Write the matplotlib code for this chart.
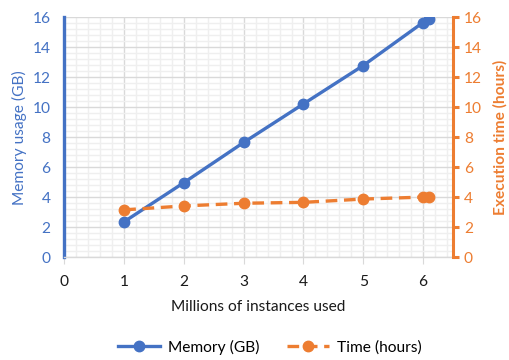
import numpy as np
import matplotlib
matplotlib.use("Agg")
import matplotlib.pyplot as plt
from matplotlib.ticker import MultipleLocator

# Millions of instances used
instances = [1, 2, 3, 4, 5, 6, 6.1]
memory_gb = [2.36, 4.97, 7.65, 10.22, 12.78, 15.65, 15.9]
time_hours = [3.15, 3.41, 3.59, 3.65, 3.87, 4.0, 4.02]

BLUE = "#4472C4"
ORANGE = "#ED7D31"
GRID_MAJOR = "#D9D9D9"
GRID_MINOR = "#EFEFEF"
FS = 11.2

plt.rcParams["font.family"] = ["Lato", "DejaVu Sans"]

fig = plt.figure(figsize=(5.09, 3.6), dpi=100)
ax = fig.add_axes([0.1267, 0.286, 0.763, 0.666])
ax2 = ax.twinx()

ax.set_xlim(0, 6.5)
ax.set_ylim(0, 16)
ax2.set_ylim(0, 16)

ax.xaxis.set_major_locator(MultipleLocator(1))
ax.xaxis.set_minor_locator(MultipleLocator(0.2))
ax.yaxis.set_major_locator(MultipleLocator(2))
ax.yaxis.set_minor_locator(MultipleLocator(0.4))
ax2.yaxis.set_major_locator(MultipleLocator(2))

ax.grid(True, which="major", color=GRID_MAJOR, linewidth=1.0)
ax.grid(True, which="minor", color=GRID_MINOR, linewidth=1.0)
ax.set_axisbelow(True)

ax.plot(instances, memory_gb, color=BLUE, linewidth=2.4, marker="o",
        markersize=7.5, label="Memory (GB)", zorder=3)
ax2.plot(instances, time_hours, color=ORANGE, linewidth=2.4, marker="o",
         markersize=7.5, linestyle=(0, (3.5, 2)), label="Time (hours)", zorder=3)

# spines
for s in ["top", "right"]:
    ax.spines[s].set_visible(False)
for s in ["top", "left", "bottom"]:
    ax2.spines[s].set_visible(False)
ax.spines["left"].set_color(BLUE)
ax.spines["left"].set_linewidth(2.4)
ax.spines["bottom"].set_color(GRID_MAJOR)
ax.spines["bottom"].set_linewidth(1.0)
ax2.spines["right"].set_color(ORANGE)
ax2.spines["right"].set_linewidth(2.2)

ax.tick_params(axis="y", which="both", length=0, labelcolor=BLUE,
               labelsize=FS, pad=10)
ax.tick_params(axis="x", which="major", length=5, color=GRID_MAJOR,
               labelcolor="#1a1a1a", labelsize=FS, pad=8)
ax.tick_params(axis="x", which="minor", length=0)
ax2.tick_params(axis="y", which="major", length=4, width=2.2, color=ORANGE,
                labelcolor=ORANGE, labelsize=FS, pad=4)
ax2.tick_params(axis="y", which="minor", length=0)

ax.set_ylabel("Memory usage (GB)", color=BLUE, fontsize=FS, labelpad=4)
ax2.set_ylabel("Execution time (hours)", color=ORANGE, fontsize=FS,
               fontweight="bold", labelpad=8)
ax.set_xlabel("Millions of instances used", color="#1a1a1a", fontsize=FS,
              labelpad=8)

h1, l1 = ax.get_legend_handles_labels()
h2, l2 = ax2.get_legend_handles_labels()
fig.legend(h1 + h2, l1 + l2, loc="center", bbox_to_anchor=(0.53, 0.035),
           ncol=2, frameon=False, fontsize=FS, handlelength=2.7,
           handletextpad=0.5, columnspacing=1.8)

fig.savefig("out.png", dpi=100)
